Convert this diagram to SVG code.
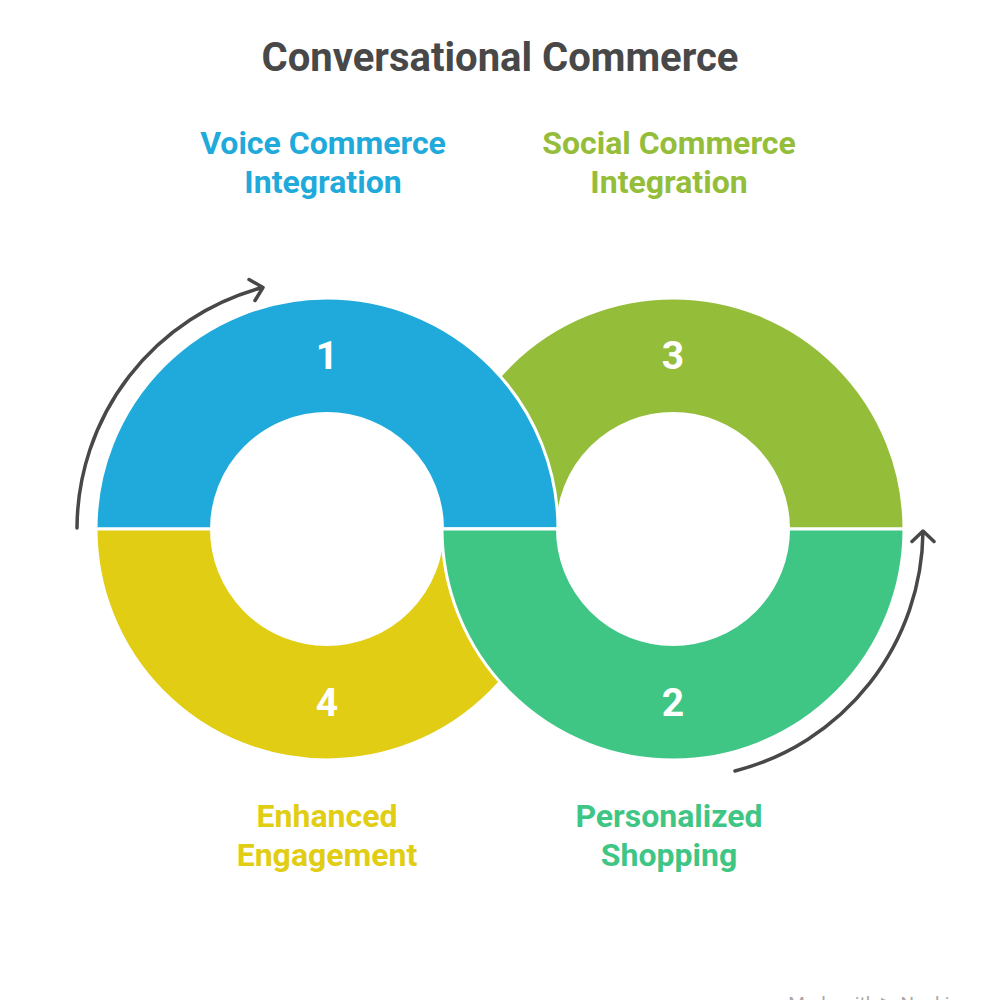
<svg xmlns="http://www.w3.org/2000/svg" width="1000" height="1000" viewBox="0 0 1000 1000">
<style>
text{font-family:Roboto,"Liberation Sans",sans-serif;font-weight:700;text-anchor:middle}
.title{font-size:40px;fill:#484848}
.label{font-size:32px}
.num{font-size:39px;fill:#fff}
.seg{stroke:#fff;stroke-width:3}
.arrow{fill:none;stroke:#484848;stroke-width:3.500;stroke-linecap:round;stroke-linejoin:round}
</style>
<rect width="1000" height="1000" fill="#fff"/>
<text class="title" x="500" y="71">Conversational Commerce</text>
<g id="node-3">
<path class="seg" fill="#94BD3A" d="M442 529A231 231 0 0 1 904 529H788.500A115.500 115.500 0 0 0 557.500 529Z"/>
<text class="num" x="673" y="369">3</text>
<text class="label" x="669" y="154" fill="#94BD3A">Social Commerce</text>
<text class="label" x="669" y="193" fill="#94BD3A">Integration</text>
</g>
<g id="node-1">
<path class="seg" fill="#1FAADB" d="M96 529A231 231 0 0 1 558 529H442.500A115.500 115.500 0 0 0 211.500 529Z"/>
<text class="num" x="327" y="369">1</text>
<text class="label" x="323" y="154" fill="#1FAADB">Voice Commerce</text>
<text class="label" x="323" y="193" fill="#1FAADB">Integration</text>
</g>
<g id="node-4">
<path class="seg" fill="#E0CD14" d="M96 529A231 231 0 0 0 558 529H442.500A115.500 115.500 0 0 1 211.500 529Z"/>
<text class="num" x="327" y="716">4</text>
<text class="label" x="327" y="827" fill="#E0CD14">Enhanced</text>
<text class="label" x="327" y="866" fill="#E0CD14">Engagement</text>
</g>
<g id="node-2">
<path class="seg" fill="#3FC685" d="M442 529A231 231 0 0 0 904 529H788.500A115.500 115.500 0 0 1 557.500 529Z"/>
<text class="num" x="673" y="716">2</text>
<text class="label" x="669" y="827" fill="#3FC685">Personalized</text>
<text class="label" x="669" y="866" fill="#3FC685">Shopping</text>
</g>
<g id="connectors">
<path class="arrow" d="M77 528A250 250 0 0 1 262.500 287.500M249 279.500L263 287.500L255 300.500"/>
<path class="arrow" d="M735 771A250 250 0 0 0 923 531.500M912 541.500L923 531L934 541.500"/>
</g>
<text x="874" y="1010" font-size="19" style="font-weight:400;fill:#a8a8a8">Made with ▶ Napkin</text>
</svg>
